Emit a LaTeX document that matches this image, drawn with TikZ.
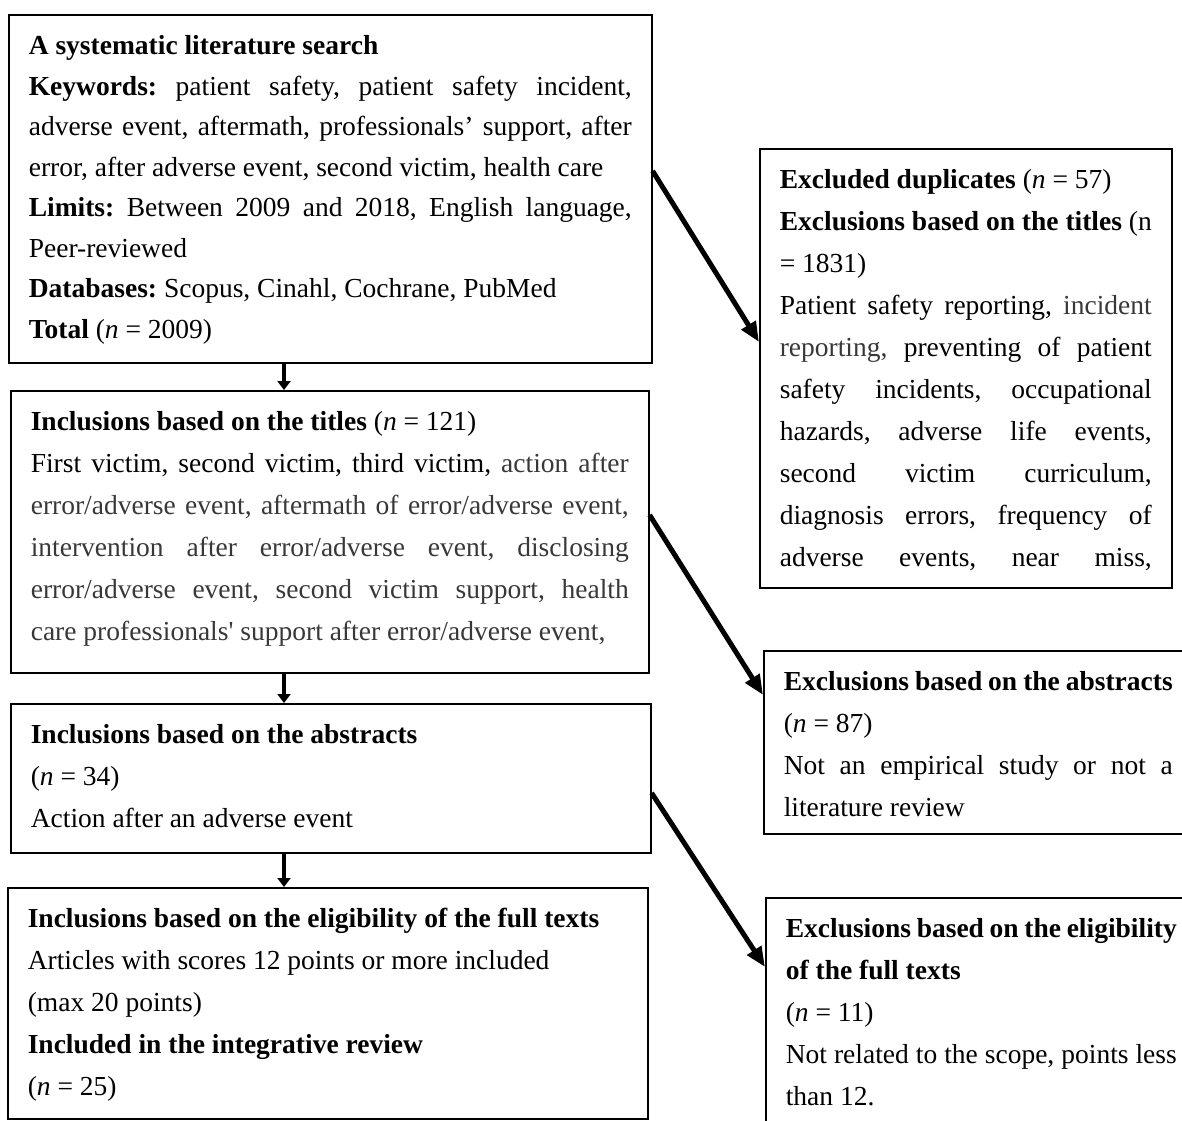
\documentclass[tikz,border=0pt]{standalone}
\usepackage{fontspec}
\setmainfont{Liberation Serif}
\usetikzlibrary{arrows.meta}
\colorlet{softgray}{black!78}
\newcommand{\spreadline}[1]{\makebox[\linewidth][s]{\spaceskip=0pt\xspaceskip=0pt #1}}

\begin{document}
\begin{tikzpicture}[x=1pt, y=-1pt,
  flowbox/.style = {draw, line width=1.6pt, anchor=north west,
    align=left, inner xsep=20pt, inner ysep=0pt, text height=40pt,
    font=\fontsize{27.5}{42}\selectfont,
    execute at begin node={\frenchspacing\spaceskip=0pt\xspaceskip=0pt}},
  downarrow/.style = {line width=4.5pt, -{Triangle[length=9pt,width=13pt]}},
  sidearrow/.style = {line width=5pt, -{Triangle[length=20pt,width=16pt]}}]
  \useasboundingbox (0,0) rectangle (1182,1120);
  \clip (0,0) rectangle (1182,1120);

  \node[flowbox, text width=603pt, text depth=308pt,
    font=\fontsize{27.5}{40.5}\selectfont] (search) at (8,14) {
    \textbf{A systematic literature search}\\
    \spreadline{\textbf{Keywords:} patient safety, patient safety incident,}\\
    \spreadline{adverse event, aftermath, professionals’ support, after}\\
    error, after adverse event, second victim, health care\\
    \spreadline{\textbf{Limits:} Between 2009 and 2018, English language,}\\
    Peer-reviewed\\
    \textbf{Databases:} Scopus, Cinahl, Cochrane, PubMed\\
    \textbf{Total} (\textit{n} = 2009)};
  \node[flowbox, text width=598pt, text depth=242pt] (titles) at (10,390) {
    \textbf{Inclusions based on the titles} (\textit{n} = 121)\\
    \spreadline{First victim, second victim, third victim, {\color{softgray}action after}}\\
    \spreadline{\color{softgray}error/adverse event, aftermath of error/adverse event,}\\
    \spreadline{\color{softgray}intervention after error/adverse event, disclosing}\\
    \spreadline{\color{softgray}error/adverse event, second victim support, health}\\
    {\color{softgray}care professionals\textquotesingle{} support after error/adverse event,}};
  \node[flowbox, text width=600pt, text depth=109pt] (abstracts) at (10,703) {
    \textbf{Inclusions based on the abstracts}\\
    (\textit{n} = 34)\\
    Action after an adverse event};
  \node[flowbox, text width=600pt, text depth=191pt] (fulltexts) at (7,887) {
    \textbf{Inclusions based on the eligibility of the full texts}\\
    Articles with scores 12 points or more included\\
    (max 20 points)\\
    \textbf{Included in the integrative review}\\
    (\textit{n} = 25)};

  \node[flowbox, text width=372pt, text depth=399pt] (duplicates) at (759,148) {
    \textbf{Excluded duplicates} (\textit{n} = 57)\\
    \spreadline{\textbf{Exclusions based on the titles} (n}\\
    = 1831)\\
    \spreadline{Patient safety reporting, {\color{softgray}incident}}\\
    \spreadline{{\color{softgray}reporting,} preventing of patient}\\
    \spreadline{safety incidents, occupational}\\
    \spreadline{hazards, adverse life events,}\\
    \spreadline{second victim curriculum,}\\
    \spreadline{diagnosis errors, frequency of}\\
    \spreadline{adverse events, near miss,}};
  \node[flowbox, text width=389pt, text depth=143pt] (absexcl) at (763,650) {
    \spreadline{\textbf{Exclusions based on the abstracts}}\\
    (\textit{n} = 87)\\
    \spreadline{Not an empirical study or not a}\\
    literature review};
  \node[flowbox, text width=391pt, text depth=223pt] (fullexcl) at (765,897) {
    \spreadline{\textbf{Exclusions based on the eligibility}}\\
    \textbf{of the full texts}\\
    (\textit{n} = 11)\\
    \spreadline{Not related to the scope, points less}\\
    than 12.};

  \coordinate (spine) at (284,0);
  \draw[downarrow] (search.south -| spine) -- (titles.north -| spine);
  \draw[downarrow] (titles.south -| spine) -- (abstracts.north -| spine);
  \draw[downarrow] (abstracts.south -| spine) -- (fulltexts.north -| spine);

  \draw[sidearrow] ([yshift=-157pt]search.north east) -- ([yshift=-194pt]duplicates.north west);
  \draw[sidearrow] ([yshift=-125pt]titles.north east) -- ([yshift=-45pt]absexcl.north west);
  \draw[sidearrow] ([yshift=-90pt]abstracts.north east) -- ([yshift=-70pt]fullexcl.north west);
\end{tikzpicture}
\end{document}
